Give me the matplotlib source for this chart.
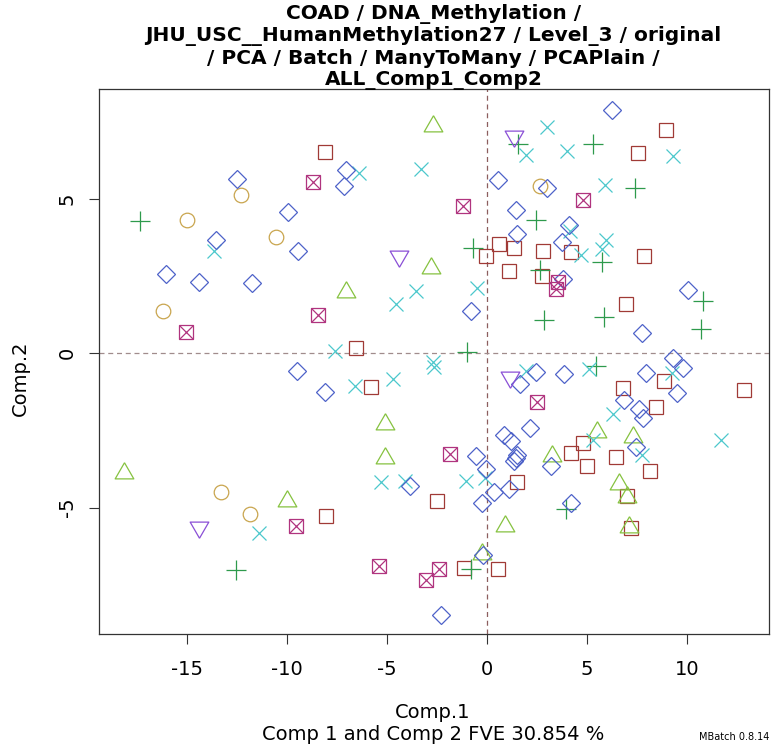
import matplotlib
matplotlib.use("Agg")
import matplotlib.pyplot as plt
import numpy as np

# PCA scores (Comp.1, Comp.2) grouped by batch
batch_square_x = [-8.1, 0.6, -0.05, 1.35, 1.1, 2.8, 2.75, -6.55, 8.95, 7.55, 4.2, 7.85, 6.95,
                  -5.8, -2.5, -8.05, 1.5, -1.15, 0.55, 6.8, 8.85, 8.45, 12.85, 4.8, 4.2, 5.0,
                  6.45, 8.15, 7.0, 7.2]
batch_square_y = [6.5, 3.53, 3.14, 3.4, 2.65, 3.3, 2.5, 0.16, 7.22, 6.47, 3.27, 3.14, 1.59,
                  -1.1, -4.79, -5.28, -4.19, -6.96, -6.99, -1.13, -0.9, -1.74, -1.2, -2.91, -3.24, -3.66,
                  -3.37, -3.82, -4.63, -5.66]

batch_circle_x = [-15.0, -16.2, -12.3, -10.55, 2.65, -13.3, -11.85]
batch_circle_y = [4.3, 1.36, 5.1, 3.75, 5.4, -4.5, -5.2]

batch_tri_x = [-18.15, -10.0, -2.7, -2.8, -7.05, -5.1, -5.1, 0.9, -0.25, 3.25, 5.5, 7.3, 6.6, 7.0, 7.1]
batch_tri_y = [-3.88, -4.79, 7.35, 2.75, 1.97, -2.3, -3.4, -5.6, -6.5, -3.33, -2.56, -2.72, -4.24, -4.66, -5.63]

batch_plus_x = [-17.35, -12.55, -0.7, 1.55, 2.45, -1.0, 2.65, 2.85, 5.3, 7.4, 5.75, 5.85, 10.8, 10.7,
                5.45, 3.95, -0.8]
batch_plus_y = [4.27, -7.02, 3.4, 6.76, 4.3, 0.03, 2.7, 1.07, 6.76, 5.34, 2.94, 1.16, 1.68, 0.78,
                -0.42, -5.05, -7.0]

batch_cross_x = [-13.65, -11.4, -6.4, -3.3, -3.55, -4.55, -0.5, -7.6, 1.95, 3.0, 4.0, 9.3, 5.9, 4.15,
                 5.95, 5.75, 4.7, -2.7, -2.65, -6.6, -4.7, -5.3, -4.1, -1.05, -0.1, 1.95, 5.1, 6.3,
                 5.3, 7.75, 9.25, 11.7]
batch_cross_y = [3.3, -5.82, 5.82, 5.95, 2.0, 1.6, 2.1, 0.06, 6.4, 7.3, 6.55, 6.37, 5.44, 3.95,
                 3.67, 3.37, 3.17, -0.3, -0.45, -1.07, -0.85, -4.19, -4.15, -4.15, -4.05, -0.58, -0.52, -1.98,
                 -2.82, -3.3, -0.64, -2.82]

batch_diamond_x = [-12.5, -9.95, -13.55, -9.45, -16.05, -14.4, -11.75, -7.05, -7.15, 0.55, 1.45, 1.5,
                   -0.8, 6.25, 3.0, 4.1, 3.75, 3.8, 10.05, 7.75, 9.3, -9.5, -8.1, -3.85, -0.55, -0.05,
                   0.35, -0.25, 1.1, -0.2, -2.3, 0.85, 1.2, 1.5, 1.45, 1.35, 2.15, 1.65, 2.45, 3.2,
                   3.85, 7.95, 9.8, 9.5, 6.85, 7.6, 7.8, 7.45, 4.2]
batch_diamond_y = [5.63, 4.56, 3.66, 3.3, 2.56, 2.3, 2.27, 5.92, 5.4, 5.6, 4.63, 3.85,
                   1.36, 7.86, 5.34, 4.14, 3.6, 2.4, 2.04, 0.65, -0.16, -0.58, -1.26, -4.3, -3.33, -3.76,
                   -4.5, -4.86, -4.4, -6.54, -8.48, -2.65, -2.85, -3.3, -3.4, -3.5, -2.43, -1.0, -0.61, -3.66,
                   -0.68, -0.65, -0.49, -1.29, -1.52, -1.82, -2.1, -3.04, -4.86]

batch_dtri_x = [-14.4, -4.4, 1.35, 1.15]
batch_dtri_y = [-5.63, 3.14, 7.02, -0.78]

batch_boxx_x = [-8.7, -15.05, -8.45, -1.2, 4.8, 3.55, 3.45, -9.55, -1.85, -5.4, -2.4, -3.05, 2.5]
batch_boxx_y = [5.53, 0.68, 1.23, 4.76, 4.95, 2.3, 2.07, -5.6, -3.27, -6.89, -6.99, -7.35, -1.59]

x_ticks = [-15, -10, -5, 0, 5, 10]
y_ticks = [-5, 0, 5]

title_lines = ["COAD / DNA_Methylation /",
               "JHU_USC__HumanMethylation27 / Level_3 / original",
               "/ PCA / Batch / ManyToMany / PCAPlain /",
               "ALL_Comp1_Comp2"]

# triangle outlines shaped like R's pch 2 / pch 6
tri_up = [(0, 1.555), (1.347, -0.778), (-1.347, -0.778), (0, 1.555)]
tri_down = [(0, -1.555), (1.347, 0.778), (-1.347, 0.778), (0, -1.555)]

plt.rcParams['font.family'] = ['DejaVu Sans']
plt.rcParams['axes.unicode_minus'] = False
fig = plt.figure(figsize=(7.79, 7.5), dpi=100)
ax = fig.add_axes([99 / 779, 1 - 634 / 750, 670 / 779, 545 / 750])

lw = 0.9
ax.axvline(0, color='#8C5E5E', lw=0.9, ls=(0, (4, 3)), zorder=1)
ax.axhline(0, color='#A08C8C', lw=0.9, ls=(0, (4, 3)), zorder=1)

def draw(xs, ys, marker, color, ms):
    ax.plot(xs, ys, ls='none', marker=marker, ms=ms, mfc='none', mec=color, mew=lw, zorder=3)

draw(batch_square_x, batch_square_y, 's', '#A03A36', 9.6)
draw(batch_circle_x, batch_circle_y, 'o', '#C9A54E', 10.5)
draw(batch_tri_x, batch_tri_y, tri_up, '#86C240', 15.5)
draw(batch_plus_x, batch_plus_y, '+', '#2E9A4C', 14.0)
draw(batch_cross_x, batch_cross_y, 'x', '#4CC8CC', 10.0)
draw(batch_diamond_x, batch_diamond_y, 'D', '#4D62C9', 9.6)
draw(batch_dtri_x, batch_dtri_y, tri_down, '#8A4FD6', 15.5)
draw(batch_boxx_x, batch_boxx_y, 's', '#B0347F', 9.6)
draw(batch_boxx_x, batch_boxx_y, 'x', '#B0347F', 9.6)

ax.set_xlim((99 - 487) / 20, (769 - 487) / 20)
ax.set_ylim((353 - 634) / 30.9, (353 - 89) / 30.9)
ax.set_xticks(x_ticks)
ax.set_yticks(y_ticks)
ax.tick_params(direction='out', length=7, width=0.8, labelsize=14, color='#333333')
ax.tick_params(axis='x', pad=12)
ax.tick_params(axis='y', pad=9)
for lab in ax.get_yticklabels():
    lab.set_rotation(90)
    lab.set_va('center')
for sp in ax.spines.values():
    sp.set_color('#333333')
    sp.set_linewidth(0.9)

# title: one line per row, evenly spaced
title_x = 433.5 / 779
for i, line in enumerate(title_lines):
    fig.text(title_x, 1 - (14 + 22 * i) / 750, line, ha='center', va='center',
             fontsize=14.5, fontweight='bold')
fig.text(433 / 779, 1 - 712 / 750, 'Comp.1', ha='center', va='center', fontsize=14)
fig.text(433 / 779, 1 - 734 / 750, 'Comp 1 and Comp 2 FVE 30.854 %', ha='center', va='center', fontsize=14)
fig.text(20 / 779, 1 - 378 / 750, 'Comp.2', ha='center', va='center', fontsize=14, rotation=90)
fig.text(734 / 779, 1 - 737 / 750, 'MBatch 0.8.14', ha='center', va='center', fontsize=7)

fig.savefig('out.png', dpi=100)
